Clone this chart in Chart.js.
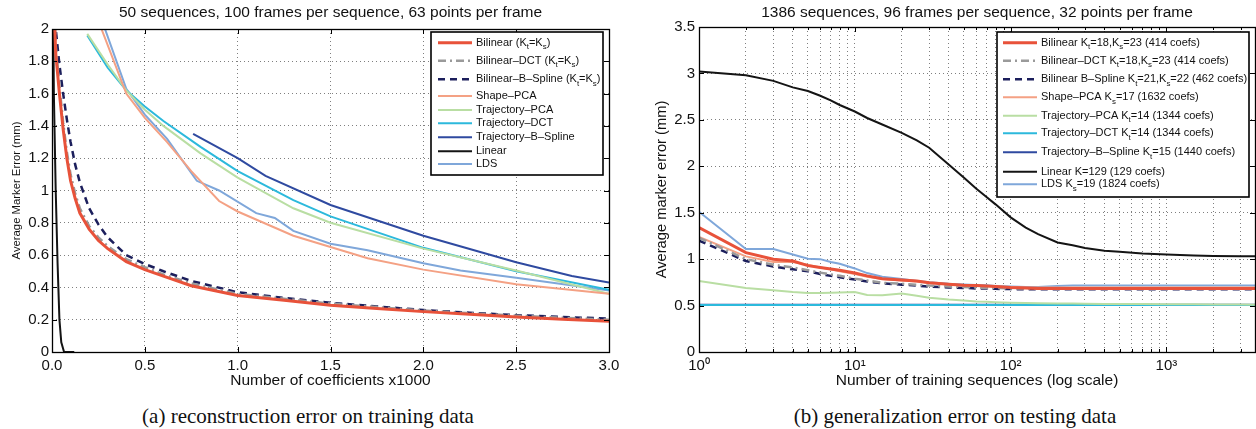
<!DOCTYPE html>
<html><head><meta charset="utf-8">
<script src="https://cdn.jsdelivr.net/npm/chart.js@4.4.0/dist/chart.umd.min.js"></script>
<style>
html,body{margin:0;padding:0;background:#fff;}
body{width:1256px;height:429px;position:relative;overflow:hidden;font-family:"Liberation Sans",Arial,sans-serif;}
.wrap{position:absolute;top:0;height:395px;}
#wa{left:0;width:625px;}
#wb{left:640px;width:616px;}
.cap{position:absolute;top:404px;line-height:24px;font-family:"Liberation Serif","Times New Roman",serif;font-size:21px;color:#111;white-space:nowrap;transform:translateX(-50%);}
</style></head>
<body>
<div class="wrap" id="wa"><canvas id="ca"></canvas></div>
<div class="wrap" id="wb"><canvas id="cb"></canvas></div>
<div class="cap" style="left:308px">(a) reconstruction error on training data</div>
<div class="cap" style="left:955px">(b) generalization error on testing data</div>
<script>
// ---------- shared series names / styles ----------
const namesA = ['Bilinear (K_{t}=K_{s})','Bilinear\u2013DCT (K_{t}=K_{s})','Bilinear\u2013B\u2013Spline (K_{t}=K_{s})','Shape\u2013PCA','Trajectory\u2013PCA','Trajectory\u2013DCT','Trajectory\u2013B\u2013Spline','Linear','LDS'];
const namesB = ['Bilinear K_{t}=18,K_{s}=23 (414 coefs)','Bilinear\u2013DCT K_{t}=18,K_{s}=23 (414 coefs)','Bilinear B\u2013Spline K_{t}=21,K_{s}=22 (462 coefs)','Shape\u2013PCA K_{s}=17 (1632 coefs)','Trajectory\u2013PCA K_{t}=14 (1344 coefs)','Trajectory\u2013DCT K_{t}=14 (1344 coefs)','Trajectory\u2013B\u2013Spline K_{t}=15 (1440 coefs)','Linear K=129 (129 coefs)','LDS K_{s}=19 (1824 coefs)'];

// ---------- chart (a): x in thousands of coefficients ----------
const aX_bil = [0.005,0.02,0.04,0.06,0.08,0.1,0.125,0.15,0.2,0.25,0.3,0.4,0.5,0.6,0.75,1.0,1.25,1.5,1.75,2.0,2.25,2.5,2.75,3.0];
const aY_bilinear = [2.3,1.85,1.6,1.38,1.2,1.06,0.95,0.86,0.76,0.69,0.64,0.56,0.51,0.47,0.41,0.35,0.32,0.29,0.27,0.25,0.233,0.217,0.203,0.19];
const aY_bilDCT   = [2.35,1.9,1.65,1.42,1.24,1.1,0.98,0.89,0.78,0.71,0.655,0.575,0.525,0.48,0.425,0.36,0.33,0.3,0.278,0.257,0.24,0.225,0.212,0.2];
const aY_bilBSpl  = [2.5,2.0,1.78,1.6,1.44,1.3,1.16,1.05,0.89,0.79,0.71,0.6,0.545,0.5,0.44,0.37,0.335,0.305,0.282,0.26,0.243,0.228,0.217,0.207];
const aX_shape = [0.25,0.4,0.5,0.62,0.75,0.9,1.0,1.3,1.7,2.0,2.5,3.0];
const aY_shape = [2.05,1.6,1.45,1.3,1.12,0.935,0.87,0.72,0.58,0.51,0.42,0.36];
const aX_traj = [0.19,0.3,0.4,0.5,0.6,0.8,1.0,1.3,1.5,2.0,2.5,3.0];
const aY_trajPCA = [1.97,1.78,1.62,1.5,1.4,1.23,1.08,0.89,0.8,0.64,0.505,0.36];
const aY_trajDCT = [1.96,1.76,1.62,1.52,1.43,1.27,1.12,0.94,0.84,0.645,0.5,0.385];
const aX_trajBS = [0.76,1.0,1.15,1.5,2.0,2.5,2.8,3.0];
const aY_trajBS = [1.35,1.2,1.09,0.91,0.72,0.556,0.47,0.43];
const aX_linear = [0.001,0.01,0.02,0.03,0.04,0.05,0.065,0.12];
const aY_linear = [3.0,1.6,1.0,0.55,0.2,0.06,0.0,0.0];
const aX_lds = [0.27,0.4,0.5,0.62,0.78,0.9,1.1,1.2,1.3,1.5,1.7,2.0,2.2,2.5,3.0];
const aY_lds = [2.05,1.63,1.47,1.32,1.06,1.0,0.86,0.83,0.75,0.67,0.63,0.55,0.505,0.46,0.38];
const aXTicks = [0,0.5,1,1.5,2,2.5,3];
const aYTicks = [0,0.2,0.4,0.6,0.8,1,1.2,1.4,1.6,1.8,2];

// ---------- chart (b): number of training sequences (log) ----------
const bN = [1,2,3,4,5,6,7,8,10,12,15,20,25,30,40,50,60,70,80,100,125,150,200,250,300,400,500,700,1000,1500,2000,3000,3700];
const bY_bilinear = [1.34,1.07,1.0,0.98,0.93,0.91,0.895,0.88,0.85,0.82,0.79,0.775,0.765,0.745,0.73,0.72,0.715,0.71,0.705,0.695,0.69,0.685,0.685,0.684,0.683,0.683,0.683,0.683,0.683,0.683,0.683,0.683,0.683];
const bY_bilDCT   = [1.23,1.0,0.94,0.91,0.88,0.855,0.835,0.82,0.79,0.77,0.745,0.735,0.725,0.715,0.705,0.7,0.695,0.69,0.69,0.685,0.685,0.683,0.68,0.68,0.68,0.68,0.68,0.68,0.68,0.68,0.68,0.68,0.68];
const bY_bilBSpl  = [1.2,0.98,0.92,0.89,0.87,0.84,0.82,0.805,0.78,0.76,0.74,0.725,0.715,0.705,0.695,0.69,0.685,0.683,0.68,0.678,0.675,0.675,0.675,0.675,0.675,0.675,0.675,0.675,0.675,0.675,0.675,0.675,0.675];
const bY_shape    = [1.24,1.03,0.97,0.97,0.94,0.91,0.89,0.87,0.84,0.81,0.785,0.77,0.76,0.745,0.73,0.72,0.715,0.71,0.705,0.7,0.695,0.695,0.695,0.695,0.695,0.695,0.695,0.695,0.695,0.695,0.695,0.695,0.695];
const bY_trajPCA  = [0.765,0.69,0.665,0.645,0.635,0.635,0.638,0.64,0.645,0.615,0.61,0.63,0.605,0.585,0.565,0.555,0.545,0.54,0.535,0.53,0.527,0.525,0.522,0.521,0.52,0.518,0.517,0.516,0.515,0.513,0.512,0.511,0.51];
const bY_trajDCT  = [0.505,0.505,0.505,0.505,0.505,0.505,0.505,0.505,0.505,0.505,0.505,0.505,0.505,0.505,0.505,0.505,0.505,0.505,0.505,0.505,0.505,0.505,0.505,0.505,0.505,0.505,0.505,0.505,0.505,0.505,0.505,0.505,0.505];
const bY_trajBS   = [0.51,0.51,0.51,0.51,0.51,0.51,0.51,0.51,0.51,0.51,0.51,0.51,0.51,0.51,0.51,0.51,0.51,0.51,0.51,0.51,0.51,0.51,0.51,0.51,0.51,0.51,0.51,0.51,0.51,0.51,0.51,0.51,0.51];
const bY_linear   = [3.02,2.98,2.92,2.85,2.81,2.76,2.71,2.66,2.59,2.52,2.45,2.36,2.28,2.2,2.02,1.88,1.76,1.67,1.59,1.45,1.34,1.27,1.18,1.15,1.12,1.09,1.08,1.06,1.05,1.04,1.035,1.03,1.03];
const bY_lds      = [1.51,1.11,1.11,1.05,1.005,1.0,0.97,0.95,0.9,0.85,0.81,0.785,0.765,0.75,0.735,0.728,0.722,0.718,0.712,0.705,0.7,0.7,0.71,0.715,0.715,0.715,0.715,0.715,0.715,0.715,0.715,0.715,0.715];
const bYTicks = [0,0.5,1,1.5,2,2.5,3,3.5];
const bXTickLabels = {1:'10\u2070',10:'10\u00b9',100:'10\u00b2',1000:'10\u00b3'};

// ---------- styles ----------
const styles = [
  {c:'#e8523a', w:3,   d:[]},
  {c:'#9a9a9a', w:2.5, d:[8,4,2,4]},
  {c:'#1c1f5c', w:2.5, d:[7,5]},
  {c:'#f4a184', w:2,   d:[]},
  {c:'#b9dea3', w:2,   d:[]},
  {c:'#2cb9dc', w:2,   d:[]},
  {c:'#2f4aa0', w:2,   d:[]},
  {c:'#141414', w:2,   d:[]},
  {c:'#7fa7da', w:2,   d:[]},
];
function pts(xs, ys){ return xs.map((x,i)=>({x:x, y:ys[i]})); }
function mkSets(names, seriesXY){
  return seriesXY.map((s,i)=>({label:names[i], data:pts(s[0],s[1]), borderColor:styles[i].c, backgroundColor:styles[i].c,
    borderWidth:styles[i].w, borderDash:styles[i].d, pointRadius:0, tension:0, fill:false}));
}
const FONT = '"Liberation Sans", Arial, Helvetica, sans-serif';

function parseRich(s){
  const out=[]; const re=/_\{([^}]*)\}/g; let last=0, m;
  while((m=re.exec(s))){ if(m.index>last) out.push({t:s.slice(last,m.index),sub:false}); out.push({t:m[1],sub:true}); last=re.lastIndex; }
  if(last<s.length) out.push({t:s.slice(last),sub:false});
  return out;
}
function drawRich(ctx, s, x, y, size){
  for(const g of parseRich(s)){
    const fs = g.sub ? size*0.72 : size;
    ctx.font = fs+'px '+FONT;
    ctx.fillText(g.t, x, g.sub ? y+size*0.38 : y);
    x += ctx.measureText(g.t).width;
  }
}

const framePlugin = {
  id:'frame',
  afterDatasetsDraw(chart, args, opts){
    const {ctx, chartArea:a} = chart;
    const xs = chart.scales.x, ys = chart.scales.y;
    ctx.save();
    ctx.strokeStyle='#000'; ctx.lineWidth=1; ctx.setLineDash([]);
    ctx.beginPath();
    for(const t of xs.ticks){
      const px = Math.round(xs.getPixelForValue(t.value))+0.5;
      const len = (opts.logMajor && !bXTickLabels[t.value]) ? 3 : 5;
      ctx.moveTo(px, a.bottom); ctx.lineTo(px, a.bottom-len);
      ctx.moveTo(px, a.top); ctx.lineTo(px, a.top+len);
    }
    for(const t of ys.ticks){
      const py = Math.round(ys.getPixelForValue(t.value))+0.5;
      ctx.moveTo(a.left, py); ctx.lineTo(a.left+5, py);
      ctx.moveTo(a.right, py); ctx.lineTo(a.right-5, py);
    }
    ctx.stroke();
    ctx.lineWidth=1.3;
    ctx.strokeRect(Math.round(a.left)+0.5, Math.round(a.top)+0.5, Math.round(a.right-a.left), Math.round(a.bottom-a.top));
    ctx.restore();
  },
  afterDraw(chart, args, opts){
    const L = opts.legend; if(!L) return;
    const ctx = chart.ctx;
    ctx.save();
    ctx.fillStyle='#fff';
    ctx.fillRect(L.left, L.top, L.right-L.left, L.bottom-L.top);
    ctx.strokeStyle='#000'; ctx.lineWidth=1.6; ctx.setLineDash([]);
    ctx.strokeRect(L.left, L.top, L.right-L.left, L.bottom-L.top);
    chart.data.datasets.forEach((ds,i)=>{
      const y = L.rows[i];
      ctx.beginPath();
      ctx.strokeStyle=ds.borderColor; ctx.lineWidth=ds.borderWidth; ctx.setLineDash(ds.borderDash||[]);
      ctx.moveTo(L.sx0, y); ctx.lineTo(L.sx1, y); ctx.stroke();
      ctx.setLineDash([]);
      ctx.fillStyle='#111'; ctx.textBaseline='middle'; ctx.textAlign='left';
      drawRich(ctx, ds.label, L.tx, y, L.size);
    });
    ctx.restore();
  }
};

function gridOpts(){ return {color:'rgba(0,0,0,0.5)', lineWidth:1, drawTicks:false}; }

new Chart(document.getElementById('ca'), {
  type:'line',
  data:{ datasets: mkSets(namesA, [
    [aX_bil,aY_bilinear],[aX_bil,aY_bilDCT],[aX_bil,aY_bilBSpl],[aX_shape,aY_shape],
    [aX_traj,aY_trajPCA],[aX_traj,aY_trajDCT],[aX_trajBS,aY_trajBS],[aX_linear,aY_linear],[aX_lds,aY_lds]]) },
  plugins:[framePlugin],
  options:{
    responsive:true, maintainAspectRatio:false, animation:false, devicePixelRatio:1,
    layout:{padding:{left:0,right:16,top:0,bottom:0}},
    plugins:{
      legend:{display:false}, tooltip:{enabled:false},
      title:{display:true, fullSize:false, text:'50 sequences, 100 frames per sequence, 63 points per frame', color:'#111',
        font:{family:FONT,size:15.5,weight:'normal'}, padding:{top:3,bottom:7.4}},
      frame:{legend:{left:431,top:32,right:603,bottom:175, rows:[42.7,60.7,79.3,96,110,123.3,137.3,151.3,164], sx0:438, sx1:472, tx:476, size:11}}
    },
    scales:{
      x:{type:'linear', min:0, max:3,
        afterBuildTicks(s){ s.ticks = aXTicks.map(v=>({value:v})); },
        afterFit(s){ s.height = 43; },
        ticks:{color:'#111', font:{family:FONT,size:15}, padding:5, maxRotation:0, autoSkip:false, callback:v=>Number(v).toFixed(1)},
        grid:gridOpts(), border:{display:false, dash:[1,3]},
        title:{display:true, text:'Number of coefficients x1000', color:'#111', font:{family:FONT,size:15.5}, padding:{top:0,bottom:4.7}}
      },
      y:{type:'linear', min:0, max:2,
        afterBuildTicks(s){ s.ticks = aYTicks.map(v=>({value:v})); },
        afterFit(s){ s.width = 52; },
        ticks:{color:'#111', font:{family:FONT,size:15}, padding:3, callback:v=>String(Math.round(v*10)/10)},
        grid:gridOpts(), border:{display:false, dash:[1,3]},
        title:{display:true, text:'Average Marker Error (mm)', color:'#111', font:{family:FONT,size:11.3}, padding:{top:10.2,bottom:0}}
      }
    }
  }
});

new Chart(document.getElementById('cb'), {
  type:'line',
  data:{ datasets: mkSets(namesB, [
    [bN,bY_bilinear],[bN,bY_bilDCT],[bN,bY_bilBSpl],[bN,bY_shape],[bN,bY_trajPCA],
    [bN,bY_trajDCT],[bN,bY_trajBS],[bN,bY_linear],[bN,bY_lds]]) },
  plugins:[framePlugin],
  options:{
    responsive:true, maintainAspectRatio:false, animation:false, devicePixelRatio:1,
    layout:{padding:{left:0,right:1,top:0,bottom:0}},
    plugins:{
      legend:{display:false}, tooltip:{enabled:false},
      title:{display:true, fullSize:false, text:'1386 sequences, 96 frames per sequence, 32 points per frame', color:'#111',
        font:{family:FONT,size:15.5,weight:'normal'}, padding:{top:3,bottom:5.4}},
      frame:{logMajor:true, legend:{left:357,top:32,right:609,bottom:197, rows:[42.7,60.7,79.3,97.3,115.7,133.3,152.3,171.7,184.3], sx0:363, sx1:397, tx:401, size:11}}
    },
    scales:{
      x:{type:'logarithmic', min:1, max:3700,
        afterBuildTicks(s){ const t=[]; for(const d of [1,10,100,1000]) for(let k=1;k<=9;k++){ const v=d*k; if(v<=3700) t.push({value:v}); } s.ticks=t; },
        afterFit(s){ s.height = 43; },
        ticks:{color:'#111', font:{family:FONT,size:15}, padding:5, maxRotation:0, autoSkip:false, callback:v=>bXTickLabels[v]||''},
        grid:gridOpts(), border:{display:false, dash:[1,3]},
        title:{display:true, text:'Number of training sequences (log scale)', color:'#111', font:{family:FONT,size:15.5}, padding:{top:0,bottom:4.7}}
      },
      y:{type:'linear', min:0, max:3.5,
        afterBuildTicks(s){ s.ticks = bYTicks.map(v=>({value:v})); },
        afterFit(s){ s.width = 59; },
        ticks:{color:'#111', font:{family:FONT,size:15}, padding:4, callback:v=>String(v)},
        grid:gridOpts(), border:{display:false, dash:[1,3]},
        title:{display:true, text:'Average marker error (mm)', color:'#111', font:{family:FONT,size:14.7}, padding:{top:13.2,bottom:0}}
      }
    }
  }
});
</script>
</body></html>
